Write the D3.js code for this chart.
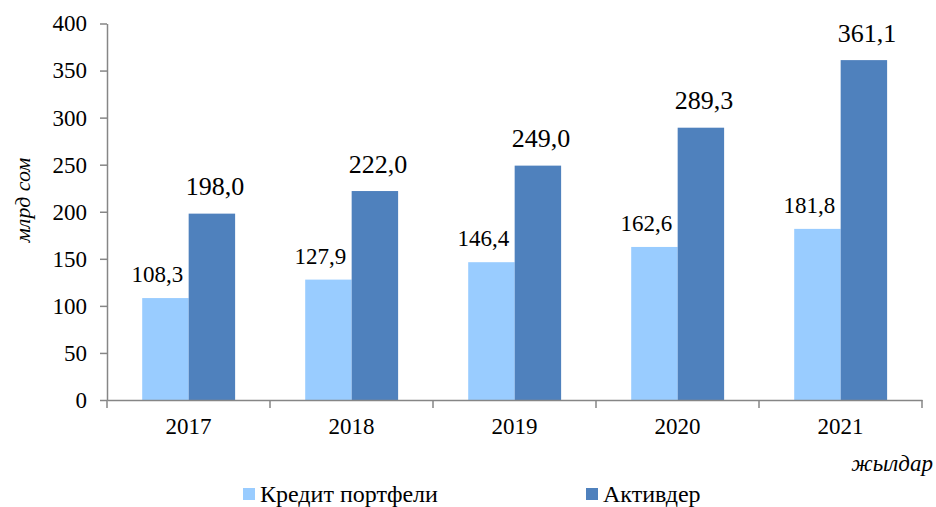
<!DOCTYPE html>
<html>
<head>
<meta charset="utf-8">
<script src="https://cdn.jsdelivr.net/npm/d3@7"></script>
</head>
<body style="margin:0; background:#fff">
<svg id="chart" width="936" height="507"></svg>
<script>
// Data
const years = ["2017", "2018", "2019", "2020", "2021"];
const credit = [108.3, 127.9, 146.4, 162.6, 181.8];   // Кредит портфели
const assets = [198.0, 222.0, 249.0, 289.3, 361.1];   // Активдер
const yTicks = [0, 50, 100, 150, 200, 250, 300, 350, 400];
const seriesNames = ["Кредит портфели", "Активдер"];
const colors = ["#99CCFF", "#4F81BD"];

const serif = '"Liberation Serif"';
const svg = d3.select("#chart").style("font-family", serif);
const plotLeft = 107, plotRight = 922, plotTop = 23.5, plotBottom = 400;

const x = d3.scaleBand().domain(years).range([plotLeft, plotRight]).padding(0);
const step = x.bandwidth();
const x1 = d3.scaleBand().domain([0, 1]).range([step * 0.216, step * 0.786]).padding(0);
const y = d3.scaleLinear().domain([0, 400]).range([plotBottom, plotTop]);

const fmt = v => v.toFixed(1).replace(".", ",");
const axisColor = "#868686";

// label placement per series: horizontal shift, gap above bar, font size
const labelDx = [-8, 3];
const labelGap = [16, 18.5];
const labelSize = [23, 26];

// Bars
const groups = svg.append("g")
  .selectAll("g")
  .data(years)
  .join("g")
  .attr("transform", d => `translate(${x(d)},0)`);

[credit, assets].forEach((vals, s) => {
  groups.append("rect")
    .attr("x", x1(s))
    .attr("width", x1.bandwidth())
    .attr("y", (d, i) => y(vals[i]))
    .attr("height", (d, i) => plotBottom - y(vals[i]))
    .attr("fill", colors[s]);

  groups.append("text")
    .attr("x", x1(s) + x1.bandwidth() / 2 + labelDx[s])
    .attr("y", (d, i) => y(vals[i]) - labelGap[s])
    .attr("text-anchor", "middle")
    .style("font-family", serif)
    .style("font-size", labelSize[s] + "px")
    .text((d, i) => fmt(vals[i]));
});

// Y axis
const yAxis = svg.append("g")
  .attr("transform", `translate(${plotLeft},0)`)
  .call(d3.axisLeft(y).tickValues(yTicks).tickSize(7).tickPadding(13).tickSizeOuter(0))
  .attr("font-family", null);
yAxis.select(".domain").attr("stroke", axisColor).attr("stroke-width", 1.5);
yAxis.selectAll(".tick line").attr("stroke", axisColor).attr("stroke-width", 1.5);
yAxis.selectAll(".tick text")
  .style("font-family", serif).style("font-size", "23px").attr("fill", "#000");

// X axis
const xAxis = svg.append("g")
  .attr("transform", `translate(0,${plotBottom})`)
  .call(d3.axisBottom(x).tickSize(0).tickPadding(18))
  .attr("font-family", null);
xAxis.select(".domain").attr("stroke", axisColor).attr("stroke-width", 1.5);
xAxis.selectAll(".tick text")
  .style("font-family", serif).style("font-size", "23px").attr("fill", "#000");

// category separators
svg.append("g")
  .selectAll("line")
  .data(years.concat(["end"]))
  .join("line")
  .attr("x1", (d, i) => plotLeft + i * step)
  .attr("x2", (d, i) => plotLeft + i * step)
  .attr("y1", plotBottom)
  .attr("y2", plotBottom + 8)
  .attr("stroke", axisColor)
  .attr("stroke-width", 1.5);

// Axis titles
svg.append("text")
  .attr("transform", "translate(30,200) rotate(-90)")
  .attr("text-anchor", "middle")
  .style("font-family", serif)
  .style("font-size", "22px")
  .style("font-style", "italic")
  .text("млрд сом");

svg.append("text")
  .attr("x", 933)
  .attr("y", 471)
  .attr("text-anchor", "end")
  .style("font-family", serif)
  .style("font-size", "23px")
  .style("font-style", "italic")
  .text("жылдар");

// Legend
const legendX = [243, 586];
const legend = svg.append("g")
  .selectAll("g")
  .data(seriesNames)
  .join("g")
  .attr("transform", (d, i) => `translate(${legendX[i]},488)`);
legend.append("rect")
  .attr("width", 12)
  .attr("height", 12)
  .attr("fill", (d, i) => colors[i]);
legend.append("text")
  .attr("x", 17)
  .attr("y", 14)
  .style("font-family", serif)
  .style("font-size", "24px")
  .text(d => d);
</script>
</body>
</html>
